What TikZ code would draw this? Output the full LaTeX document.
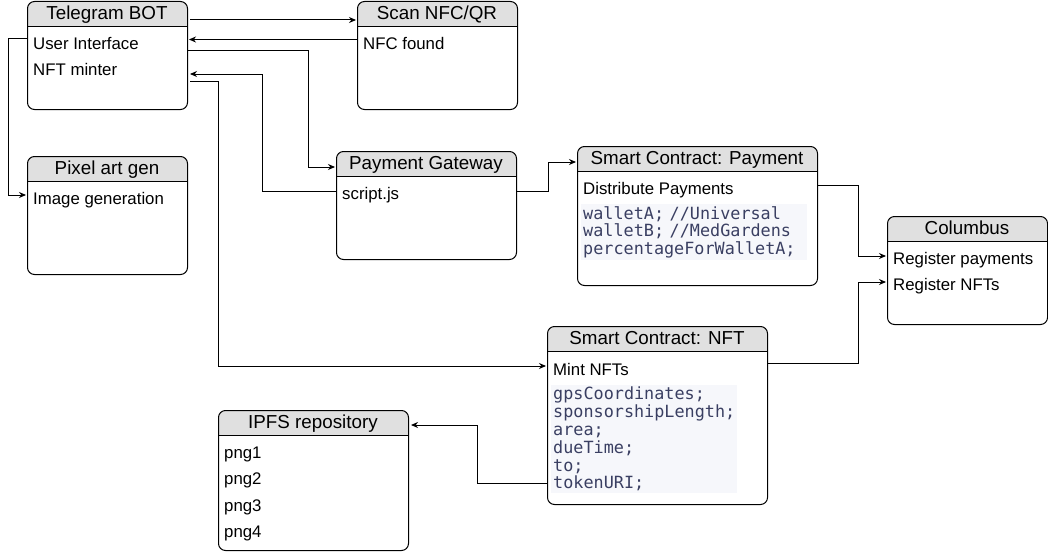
\documentclass[tikz,border=0pt]{standalone}
\usepackage{fontspec}
\setmainfont{Liberation Sans}
\newfontfamily\codefont{DejaVu Sans Mono}
\usepackage{xcolor}
\usepackage{tikz}
\usetikzlibrary{arrows.meta, calc}
\definecolor{hdrgray}{HTML}{E0E0E0}
\definecolor{codebg}{HTML}{F6F7FB}
\definecolor{codeblue}{HTML}{3A3F62}

\begin{document}
\begin{tikzpicture}[x=1pt, y=-1pt,
    box/.style={draw, line width=1pt, rounded corners=7pt, anchor=north west, inner sep=0pt, fill=white,
      path picture={\fill[hdrgray, sharp corners] (path picture bounding box.north west) rectangle ([yshift=-25pt]path picture bounding box.north east);
        \draw[line width=1pt, sharp corners] ([yshift=-25pt]path picture bounding box.north west) -- ([yshift=-25pt]path picture bounding box.north east);}},
    title/.style={inner sep=0pt, text height=13.4pt, text depth=0pt, font=\fontsize{18.8}{22}\selectfont},
    row/.style={anchor=west, inner sep=0pt, text height=12.2pt, text depth=0pt, font=\fontsize{16.8}{20}\selectfont},
    code/.style={anchor=north west, fill=codebg, text=codeblue, align=left, inner xsep=2pt, inner ysep=2pt,
      font=\codefont\fontsize{16.8}{17.8}\selectfont},
    conn/.style={line width=1pt, -{Stealth[length=7pt, width=6pt]}}]
    \useasboundingbox (0,0) rectangle (1048,551);

    % Telegram BOT
    \node[box, minimum width=160pt, minimum height=108pt] (tg) at (27,1) {};
    \node[title] (tg-t) at (107,13) {Telegram BOT};
    \node[row] (tg-ui) at (33,43.5) {User Interface};
    \node[row] (tg-nft) at (33,69.5) {NFT minter};

    % Scan NFC/QR
    \node[box, minimum width=160pt, minimum height=108pt] (scan) at (357,1) {};
    \node[title] (scan-t) at (437,13) {Scan NFC/QR};
    \node[row] (scan-nfc) at (363,43.5) {NFC found};

    % Pixel art gen
    \node[box, minimum width=160pt, minimum height=118pt] (pix) at (27,156) {};
    \node[title] (pix-t) at (107,168) {Pixel art gen};
    \node[row] (pix-img) at (33,198) {Image generation};

    % Payment Gateway
    \node[box, minimum width=180pt, minimum height=108pt] (pg) at (336,151) {};
    \node[title] (pg-t) at (426,163) {Payment Gateway};
    \node[row] (pg-js) at (342,193) {script.js};

    % Smart Contract: Payment
    \node[box, minimum width=240pt, minimum height=139pt] (scp) at (577,146) {};
    \node[title] (scp-t) at (697,158) {Smart Contract: Payment};
    \node[row] (scp-dist) at (583,188) {Distribute Payments};
    \node[code, text width=222pt] (scp-code) at (581,204) {walletA; //Universal\\walletB; //MedGardens\\percentageForWalletA;};

    % Columbus
    \node[box, minimum width=160pt, minimum height=108pt] (col) at (887,216) {};
    \node[title] (col-t) at (967,228) {Columbus};
    \node[row] (col-pay) at (893,258) {Register payments};
    \node[row] (col-nft) at (893,284) {Register NFTs};

    % Smart Contract: NFT
    \node[box, minimum width=220pt, minimum height=178pt] (nft) at (547,326) {};
    \node[title] (nft-t) at (657,338) {Smart Contract: NFT};
    \node[row] (nft-mint) at (553,369) {Mint NFTs};
    \node[code, text width=182pt] (nft-code) at (551,385) {gpsCoordinates;\\sponsorshipLength;\\area;\\dueTime;\\to;\\tokenURI;};

    % IPFS repository
    \node[box, minimum width=190pt, minimum height=140pt] (ipfs) at (218,410) {};
    \node[title] (ipfs-t) at (313,422) {IPFS repository};
    \node[row] (ipfs-1) at (224,452) {png1};
    \node[row] (ipfs-2) at (224,478.5) {png2};
    \node[row] (ipfs-3) at (224,505) {png3};
    \node[row] (ipfs-4) at (224,531.5) {png4};

    % connectors
    \draw[conn] ($(tg.north east)+(2,19)$) -- ($(scan.north west)+(-1,19)$);
    \draw[conn] ($(scan.north west)+(0,38.5)$) -- ($(tg.north east)+(1,38.5)$);
    \draw[conn] ($(tg.north east)+(0,50)$) -- ++(120,0) |- ($(pg.north west)+(-1,16)$);
    \draw[conn] ($(pg.north west)+(0,40)$) -- ++(-74,0) |- ($(tg.north east)+(2,73)$);
    \draw[conn] ($(tg.north west)+(0,38)$) -- ++(-19,0) |- ($(pix.north west)+(-1,39)$);
    \draw[conn] ($(tg.north east)+(2,80)$) -- ++(28,0) |- ($(nft.north west)+(-1,40)$);
    \draw[conn] ($(pg.north east)+(0,40)$) -- ++(31,0) |- ($(scp.north west)+(-1,16)$);
    \draw[conn] ($(scp.north east)+(0,39)$) -- ++(40,0) |- ($(col.west |- col-pay)+(-1,-2)$);
    \draw[conn] ($(nft.north east)+(0,37)$) -- ++(90,0) |- ($(col.west |- col-nft)+(-1,-2)$);
    \draw[conn] ($(nft.north west)+(0,157)$) -- ++(-70,0) |- ($(ipfs.north east)+(2,15)$);
\end{tikzpicture}
\end{document}
